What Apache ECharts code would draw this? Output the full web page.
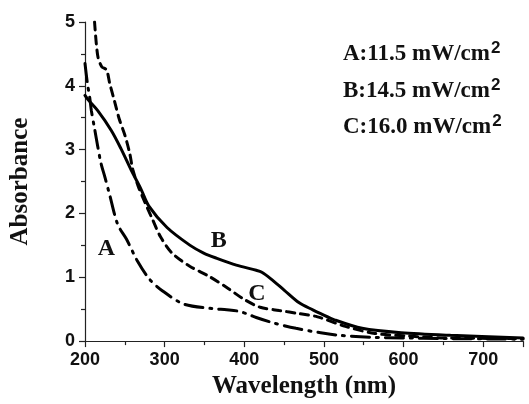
<!DOCTYPE html>
<html>
<head>
<meta charset="utf-8">
<script src="https://cdn.jsdelivr.net/npm/echarts@6/dist/echarts.min.js"></script>
<style>
  html, body { margin: 0; padding: 0; background: #fff; }
  #main { width: 529px; height: 404px; }
</style>
</head>
<body>
<div id="main"></div>
<script>
// 曲线 A：11.5 mW/cm2（点划线）
var wlA = [200, 203, 206, 208, 212, 216, 220, 225, 231, 241, 252, 266, 281, 297, 324, 359, 378, 392, 405, 415, 438, 465, 496, 520, 560, 600, 650, 750];
var absA = [4.35, 4.04, 3.81, 3.61, 3.33, 3.05, 2.79, 2.57, 2.29, 1.83, 1.60, 1.25, 0.97, 0.79, 0.58, 0.51, 0.49, 0.47, 0.42, 0.37, 0.28, 0.20, 0.13, 0.09, 0.06, 0.05, 0.04, 0.03];
// 曲线 B：14.5 mW/cm2（实线）
var wlB = [200, 204, 216, 233, 245, 258, 270, 280, 303, 332, 349, 365, 390, 415, 422, 433, 450, 469, 486, 496, 514, 548, 597, 659, 750];
var absB = [3.85, 3.78, 3.61, 3.30, 3.02, 2.68, 2.39, 2.12, 1.78, 1.50, 1.38, 1.30, 1.19, 1.11, 1.08, 0.98, 0.80, 0.60, 0.49, 0.43, 0.33, 0.20, 0.13, 0.09, 0.05];
// 曲线 C：16.0 mW/cm2（虚线）
var wlC = [212, 216, 221, 227, 231, 237, 243, 250, 256, 260, 267, 275, 285, 295, 310, 332, 355, 378, 399, 420, 444, 469, 492, 527, 564, 606, 647, 750];
var absC = [5.0, 4.47, 4.30, 4.25, 4.04, 3.76, 3.48, 3.23, 2.95, 2.69, 2.42, 2.18, 1.90, 1.63, 1.37, 1.17, 1.02, 0.84, 0.66, 0.53, 0.48, 0.43, 0.38, 0.23, 0.12, 0.08, 0.05, 0.04];

// 图中字母标注的位置（数据坐标）
var tagNames = ['A', 'B', 'C'];
var tagWl = [227, 368, 416];
var tagAbs = [1.45, 1.57, 0.74];

// 右上角说明文字
var legendLines = ['A:11.5 mW/cm', 'B:14.5 mW/cm', 'C:16.0 mW/cm'];

function zip(xs, ys) {
    return xs.map(function (x, i) { return [x, ys[i]]; });
}

var serifFont = '"Liberation Serif", "DejaVu Serif", serif';
var sansFont = '"Liberation Sans", Arial, sans-serif';

var myChart = echarts.init(document.getElementById('main'));

var axisCommon = {
    axisLine: { show: true, onZero: false, lineStyle: { color: '#222', width: 1.2 } },
    axisTick: { show: true, inside: false, length: 6, lineStyle: { color: '#222', width: 1.2 } },
    minorTick: { show: true, splitNumber: 2, length: 4, lineStyle: { color: '#222', width: 1.2 } },
    splitLine: { show: false },
    axisLabel: { color: '#111', fontFamily: sansFont, fontWeight: 'bold', fontSize: 18, margin: 10 },
    nameTextStyle: { color: '#111', fontFamily: serifFont, fontWeight: 'bold', fontSize: 25 }
};

function lineSeries(name, data, type) {
    return {
        name: name,
        type: 'line',
        data: data,
        smooth: 0.3,
        showSymbol: false,
        symbol: 'none',
        clip: true,
        lineStyle: { color: '#000', width: 3, type: type, cap: 'round' }
    };
}

var tagSeries = lineSeries('tags', [], 'solid');
tagSeries.markPoint = {
    symbol: 'circle',
    symbolSize: 1,
    itemStyle: { color: 'rgba(0,0,0,0)' },
    label: {
        show: true,
        position: 'inside',
        color: '#111',
        fontFamily: serifFont,
        fontWeight: 'bold',
        fontSize: 24,
        formatter: function (p) { return p.name; }
    },
    data: tagNames.map(function (n, i) { return { name: n, coord: [tagWl[i], tagAbs[i]] }; })
};

var legendTexts = legendLines.map(function (t, i) {
    return {
        type: 'text',
        left: 343,
        top: 40 + i * 36.5,
        style: {
            text: '{m|' + t + '}{s|2}',
            rich: {
                m: { fontFamily: serifFont, fontWeight: 'bold', fontSize: 23, fill: '#111' },
                s: { fontFamily: sansFont, fontWeight: 'bold', fontSize: 17, fill: '#111', padding: [0, 0, 12, 1] }
            }
        }
    };
});

var option = {
    backgroundColor: '#fff',
    animation: false,
    grid: { left: 80, right: 6, top: 22, bottom: 54, containLabel: false },
    xAxis: Object.assign({}, axisCommon, {
        type: 'value',
        min: 200,
        max: 750,
        interval: 100,
        name: 'Wavelength (nm)',
        nameLocation: 'middle',
        nameGap: 32,
        axisLabel: Object.assign({}, axisCommon.axisLabel, { showMaxLabel: false })
    }),
    yAxis: Object.assign({}, axisCommon, {
        type: 'value',
        min: 0,
        max: 5,
        interval: 1,
        name: 'Absorbance',
        nameLocation: 'middle',
        nameGap: 52
    }),
    graphic: legendTexts,
    series: [
        lineSeries('A', zip(wlA, absA), [18, 7, 2, 7]),
        lineSeries('B', zip(wlB, absB), 'solid'),
        lineSeries('C', zip(wlC, absC), [8, 6]),
        tagSeries
    ]
};

myChart.setOption(option);
</script>
</body>
</html>
